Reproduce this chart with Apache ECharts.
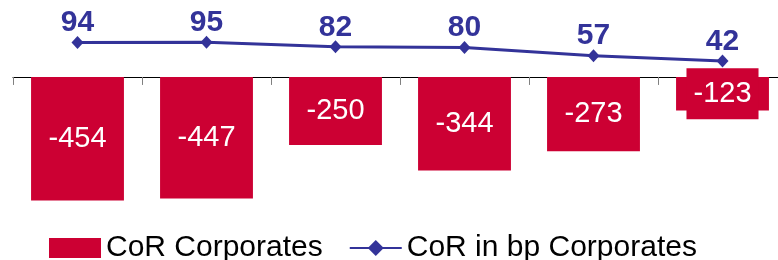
<!DOCTYPE html>
<html>
<head>
<meta charset="utf-8">
<title>CoR Corporates</title>
<script src="https://cdn.jsdelivr.net/npm/echarts@6/dist/echarts.min.js"></script>
<style>
html, body { margin: 0; padding: 0; background: #fff; overflow: hidden; }
/* chart is a bit wider than the window: the last category runs off the right edge */
#chart01 { width: 787px; height: 260px; }
</style>
</head>
<body>
<div id="chart01"></div>
<script>
// data
var categories = ['P1', 'P2', 'P3', 'P4', 'P5', 'P6'];
var corValues = [-454, -447, -250, -344, -273, -123];
var bpValues = [94, 95, 82, 80, 57, 42];
var seriesNames = ['CoR Corporates', 'CoR in bp Corporates'];

var myChart = echarts.init(document.getElementById('chart01'));

// last bar is short, its label gets a red box behind it
var barData = corValues.map(function (v, i) {
    if (i === corValues.length - 1) {
        return {
            value: v,
            label: {
                backgroundColor: '#CC0033',
                padding: [11, 7]
            }
        };
    }
    return v;
});

var option = {
    animation: false,
    textStyle: {
        fontFamily: 'Liberation Sans, Arial, sans-serif'
    },
    legend: {
        left: 44,
        top: 228,
        itemWidth: 52,
        itemHeight: 20,
        itemGap: 26,
        textStyle: {
            fontSize: 30,
            color: '#000'
        },
        data: [
            { name: seriesNames[0], icon: 'rect' },
            { name: seriesNames[1] }
        ]
    },
    grid: {
        left: 13,
        right: 0,
        top: 10,
        height: 200,
        containLabel: false
    },
    xAxis: {
        type: 'category',
        data: categories,
        axisLine: {
            onZero: true,
            onZeroAxisIndex: 0,
            lineStyle: { color: '#000', width: 1 }
        },
        axisTick: {
            show: true,
            length: 8,
            lineStyle: { color: '#808080' }
        },
        axisLabel: { show: false },
        splitLine: { show: false }
    },
    yAxis: [{
        type: 'value',
        min: -489,
        max: 246,
        show: false,
        splitLine: { show: false }
    }, {
        type: 'value',
        min: -375,
        max: 185,
        show: false,
        splitLine: { show: false }
    }],
    series: [{
        name: seriesNames[0],
        type: 'bar',
        yAxisIndex: 0,
        barWidth: '72%',
        itemStyle: { color: '#CC0033' },
        label: {
            show: true,
            position: 'inside',
            color: '#fff',
            fontSize: 29
        },
        data: barData
    }, {
        name: seriesNames[1],
        type: 'line',
        yAxisIndex: 1,
        symbol: 'diamond',
        symbolSize: [12, 13],
        lineStyle: { color: '#333399', width: 3 },
        itemStyle: { color: '#333399' },
        label: {
            show: true,
            position: 'top',
            distance: -2,
            color: '#333399',
            fontSize: 30,
            fontWeight: 'bold'
        },
        data: bpValues
    }]
};

myChart.setOption(option);
</script>
</body>
</html>
